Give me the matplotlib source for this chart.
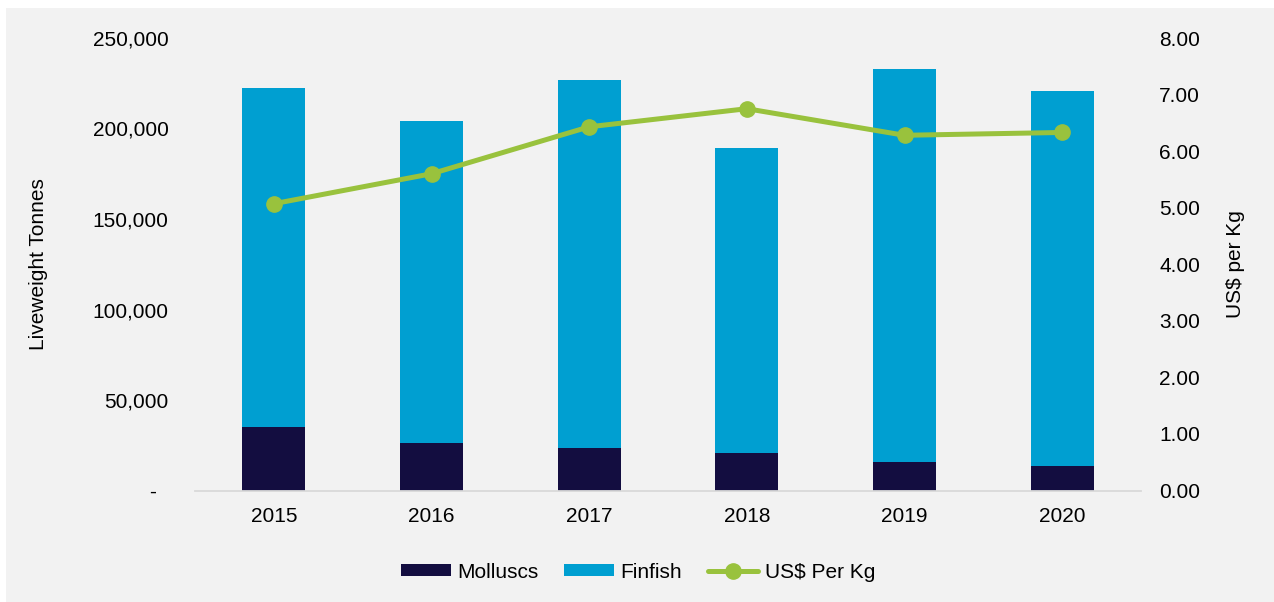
import numpy as np
import matplotlib
matplotlib.use('Agg')
import matplotlib.pyplot as plt
from matplotlib.patches import Rectangle
from matplotlib.ticker import FuncFormatter, MultipleLocator

plt.rcParams['font.family'] = ['Liberation Sans', 'DejaVu Sans']

years = ['2015', '2016', '2017', '2018', '2019', '2020']
molluscs = [35100, 26400, 23300, 20600, 15600, 13500]
totals = [222400, 204100, 227000, 189400, 232700, 220600]
finfish = [t - m for t, m in zip(totals, molluscs)]
usd_per_kg = [5.07, 5.60, 6.43, 6.75, 6.28, 6.33]

c_moll = '#130d40'
c_fin = '#009fd1'
c_line = '#99c23d'
fs = 15

fig = plt.figure(figsize=(12.74, 6.02), dpi=100, facecolor='white')
# grey panel behind the chart
fig.patches.append(Rectangle((6 / 1274, 0), 1 - 6 / 1274, 1 - 8 / 602,
                             transform=fig.transFigure, facecolor='#f2f2f2',
                             edgecolor='none', zorder=-10))

ax = fig.add_axes([195 / 1274, 1 - 490.5 / 602, 946 / 1274, 452.5 / 602])
ax.set_facecolor('none')
x = np.arange(len(years))
b1 = ax.bar(x, molluscs, width=0.4, color=c_moll, label='Molluscs', zorder=2)
b2 = ax.bar(x, finfish, width=0.4, bottom=molluscs, color=c_fin, label='Finfish', zorder=2)
ax.set_xlim(-0.5, 5.5)
ax.set_ylim(0, 250000)
ax.yaxis.set_major_locator(MultipleLocator(50000))
ax.yaxis.set_major_formatter(FuncFormatter(lambda v, p: '-  ' if v == 0 else f'{v:,.0f}'))
ax.set_xticks(x)
ax.set_xticklabels(years)
ax.tick_params(axis='both', length=0, labelsize=fs, colors='#000000')
ax.tick_params(axis='y', pad=19)
ax.tick_params(axis='x', pad=12)
for s in ['top', 'right', 'left']:
    ax.spines[s].set_visible(False)
ax.spines['bottom'].set_color('#d9d9d9')
ax.spines['bottom'].set_linewidth(1.3)
ax.set_ylabel('Liveweight Tonnes', fontsize=fs, labelpad=32)

ax2 = ax.twinx()
ln, = ax2.plot(x, usd_per_kg, color=c_line, lw=3.6, marker='o', markersize=11,
               label='US$ Per Kg', solid_capstyle='round')
ax2.set_ylim(0, 8)
ax2.yaxis.set_major_locator(MultipleLocator(1))
ax2.yaxis.set_major_formatter(FuncFormatter(lambda v, p: f'{v:.2f}'))
ax2.tick_params(axis='y', length=0, labelsize=fs, pad=13)
for s in ax2.spines.values():
    s.set_visible(False)
ax2.set_ylabel('US$ per Kg', fontsize=fs, labelpad=19)

fig.legend([b1, b2, ln], ['Molluscs', 'Finfish', 'US$ Per Kg'], loc='center',
           bbox_to_anchor=(638 / 1274, 1 - 572 / 602), ncol=3, frameon=False,
           fontsize=fs, handlelength=2.4, handleheight=0.5, handletextpad=0.3,
           columnspacing=1.25)

fig.savefig('out.png', dpi=100, facecolor=fig.get_facecolor())
